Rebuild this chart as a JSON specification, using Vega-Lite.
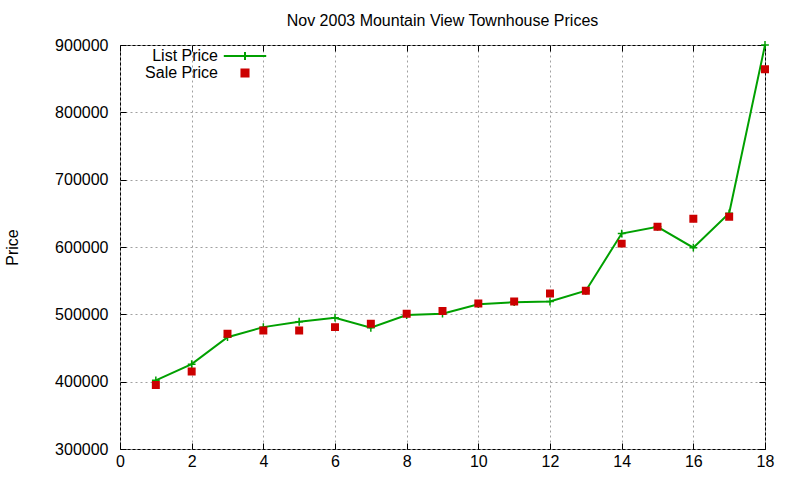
{
  "$schema": "https://vega.github.io/schema/vega-lite/v6.json",
  "width": 645,
  "height": 404,
  "autosize": "none",
  "padding": {"left": 120, "top": 45, "right": 35, "bottom": 31},
  "background": "white",
  "config": {
    "font": "Liberation Sans",
    "view": {"stroke": "black", "strokeWidth": 1}
  },
  "title": {
    "text": "Nov 2003 Mountain View Townhouse Prices",
    "font": "Liberation Sans",
    "fontSize": 16,
    "fontWeight": "normal",
    "color": "black",
    "anchor": "middle",
    "offset": 8
  },
  "data": {
    "values": [
      {"n": 1, "series": "List Price", "price": 402000},
      {"n": 2, "series": "List Price", "price": 426000},
      {"n": 3, "series": "List Price", "price": 466000},
      {"n": 4, "series": "List Price", "price": 481000},
      {"n": 5, "series": "List Price", "price": 489000},
      {"n": 6, "series": "List Price", "price": 495000},
      {"n": 7, "series": "List Price", "price": 480000},
      {"n": 8, "series": "List Price", "price": 499000},
      {"n": 9, "series": "List Price", "price": 501000},
      {"n": 10, "series": "List Price", "price": 515000},
      {"n": 11, "series": "List Price", "price": 518000},
      {"n": 12, "series": "List Price", "price": 519000},
      {"n": 13, "series": "List Price", "price": 535000},
      {"n": 14, "series": "List Price", "price": 620000},
      {"n": 15, "series": "List Price", "price": 630000},
      {"n": 16, "series": "List Price", "price": 599000},
      {"n": 17, "series": "List Price", "price": 650000},
      {"n": 18, "series": "List Price", "price": 900000},
      {"n": 1, "series": "Sale Price", "price": 395000},
      {"n": 2, "series": "Sale Price", "price": 415000},
      {"n": 3, "series": "Sale Price", "price": 471000},
      {"n": 4, "series": "Sale Price", "price": 476000},
      {"n": 5, "series": "Sale Price", "price": 476000},
      {"n": 6, "series": "Sale Price", "price": 481000},
      {"n": 7, "series": "Sale Price", "price": 486000},
      {"n": 8, "series": "Sale Price", "price": 501000},
      {"n": 9, "series": "Sale Price", "price": 505000},
      {"n": 10, "series": "Sale Price", "price": 516000},
      {"n": 11, "series": "Sale Price", "price": 519000},
      {"n": 12, "series": "Sale Price", "price": 531000},
      {"n": 13, "series": "Sale Price", "price": 535000},
      {"n": 14, "series": "Sale Price", "price": 605000},
      {"n": 15, "series": "Sale Price", "price": 630000},
      {"n": 16, "series": "Sale Price", "price": 642000},
      {"n": 17, "series": "Sale Price", "price": 645000},
      {"n": 18, "series": "Sale Price", "price": 864000}
    ]
  },
  "layer": [
    {
      "transform": [{"filter": "datum.series === 'List Price'"}],
      "mark": {"type": "line", "color": "#00a000", "strokeWidth": 2},
      "encoding": {
        "x": {
          "field": "n",
          "type": "quantitative",
          "scale": {"domain": [0, 18], "nice": false},
          "axis": {
            "orient": "bottom",
            "values": [0, 2, 4, 6, 8, 10, 12, 14, 16, 18],
            "title": null,
            "domain": false,
            "tickSize": -6,
            "tickColor": "black",
            "labelPadding": 10,
            "labelFontSize": 16,
            "labelColor": "black",
            "labelFlush": false,
            "grid": true,
            "gridColor": "#a0a0a0",
            "gridDash": [2, 3]
          }
        },
        "y": {
          "field": "price",
          "type": "quantitative",
          "scale": {"domain": [300000, 900000], "nice": false, "zero": false},
          "axis": {
            "orient": "left",
            "values": [300000, 400000, 500000, 600000, 700000, 800000, 900000],
            "format": "d",
            "title": "Price",
            "titleFontSize": 16,
            "titleFontWeight": "normal",
            "titleColor": "black",
            "titleAngle": -90,
            "titleAlign": "center",
            "titleBaseline": "middle",
            "titleX": -108,
            "titleY": 202,
            "domain": false,
            "tickSize": -6,
            "tickColor": "black",
            "labelPadding": 18,
            "labelFontSize": 16,
            "labelColor": "black",
            "labelFlush": false,
            "grid": true,
            "gridColor": "#a0a0a0",
            "gridDash": [2, 3]
          }
        }
      }
    },
    {
      "transform": [{"filter": "datum.series === 'List Price'"}],
      "mark": {"type": "point", "shape": "M-1.2,0H1.2M0,-1.2V1.2", "size": 42, "filled": false, "color": "#00a000", "strokeWidth": 1.5, "opacity": 1},
      "encoding": {
        "x": {"field": "n", "type": "quantitative", "axis": null},
        "y": {"field": "price", "type": "quantitative", "axis": null}
      }
    },
    {
      "transform": [{"filter": "datum.series === 'Sale Price'"}],
      "mark": {"type": "point", "size": 42, "strokeWidth": 1.5, "opacity": 1},
      "encoding": {
        "x": {
          "field": "n",
          "type": "quantitative",
          "axis": {
            "orient": "top",
            "values": [0, 2, 4, 6, 8, 10, 12, 14, 16, 18],
            "title": null,
            "labels": false,
            "domain": false,
            "grid": false,
            "tickSize": -6,
            "tickColor": "black"
          }
        },
        "y": {
          "field": "price",
          "type": "quantitative",
          "axis": {
            "orient": "right",
            "values": [300000, 400000, 500000, 600000, 700000, 800000, 900000],
            "title": null,
            "labels": false,
            "domain": false,
            "grid": false,
            "tickSize": -6,
            "tickColor": "black"
          }
        },
        "shape": {
          "field": "series",
          "type": "nominal",
          "scale": {"domain": ["List Price", "Sale Price"], "range": ["M-6,0H6M0,-1.1V1.1", "square"]},
          "legend": {
            "orient": "none",
            "legendX": 117,
            "legendY": 3,
            "title": null,
            "padding": 0,
            "rowPadding": 1,
            "symbolSize": 50,
            "symbolStrokeWidth": 2,
            "labelAlign": "right",
            "labelOffset": -35,
            "labelFontSize": 16,
            "labelColor": "black"
          }
        },
        "fill": {
          "field": "series",
          "type": "nominal",
          "scale": {"domain": ["List Price", "Sale Price"], "range": ["transparent", "#cc0000"]},
          "legend": {
            "orient": "none",
            "legendX": 117,
            "legendY": 3,
            "title": null,
            "padding": 0,
            "rowPadding": 1,
            "symbolSize": 50,
            "symbolStrokeWidth": 2,
            "labelAlign": "right",
            "labelOffset": -35,
            "labelFontSize": 16,
            "labelColor": "black"
          }
        },
        "stroke": {
          "field": "series",
          "type": "nominal",
          "scale": {"domain": ["List Price", "Sale Price"], "range": ["#00a000", "#cc0000"]},
          "legend": {
            "orient": "none",
            "legendX": 117,
            "legendY": 3,
            "title": null,
            "padding": 0,
            "rowPadding": 1,
            "symbolSize": 50,
            "symbolStrokeWidth": 2,
            "labelAlign": "right",
            "labelOffset": -35,
            "labelFontSize": 16,
            "labelColor": "black"
          }
        }
      }
    }
  ],
  "resolve": {"axis": {"x": "independent", "y": "independent"}}
}
